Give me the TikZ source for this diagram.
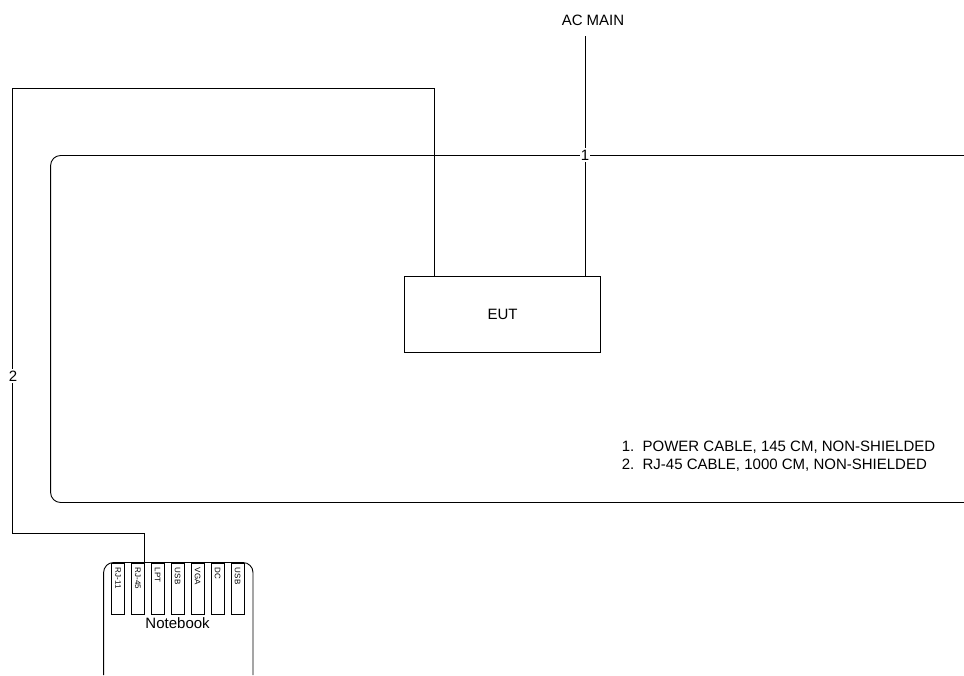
\documentclass[tikz,border=0pt]{standalone}
\usepackage{fontspec}
\setmainfont{Liberation Sans}
\usetikzlibrary{calc, positioning}

\begin{document}
\begin{tikzpicture}[x=1pt, y=-1pt, line width=0.9pt, font=\fontsize{15}{18}\selectfont,
    port/.style={draw, rotate=-90, anchor=west, minimum height=13pt, text width=41pt, inner xsep=5pt, inner ysep=2pt, align=left, font=\fontsize{8}{9}\selectfont},
    cablelabel/.style={fill=white, inner xsep=1pt, inner ysep=1.5pt}]
            \useasboundingbox (0,0) rectangle (964,675);

            \node (eut) at (502.6,314) [draw, minimum width=196pt, minimum height=76pt] {EUT};
            \node (main) at (593,20) {AC MAIN};
            \coordinate (mainend) at (585,36);
            \coordinate (powerin) at (585,276);
            \coordinate (lanin) at (434.6,276);
            \coordinate (lantop) at (434.6,88.5);
            \coordinate (lanleft) at (12.8,88.5);
            \coordinate (lanlow) at (12.8,533.5);

            % table edge, open at the right
            \coordinate (tabletop) at (966,155.5);
            \coordinate (tablecorner) at (50.6,155.5);
            \coordinate (tablelow) at (50.6,502.5);
            \coordinate (tablebottom) at (966,502.5);
            \draw[rounded corners=10pt] (tabletop) -- (tablecorner) -- (tablelow) -- (tablebottom);

            % notebook, cut off at the bottom
            \coordinate (nbleft) at (103.6,675);
            \coordinate (nbtopleft) at (103.6,562.5);
            \coordinate (nbtopright) at (253,562.5);
            \coordinate (nbright) at (253,675);
            \draw[rounded corners=10pt] (nbleft) -- (nbtopleft) -- (nbtopright) -- (nbright);

            \node[port] (rj11) at (118,562.5) {RJ-11};
            \node[port] (rj45) at (137.8,562.5) {RJ-45};
            \node[port] (lpt) at (157.6,562.5) {LPT};
            \node[port] (usba) at (177.6,562.5) {USB};
            \node[port] (vga) at (197.6,562.5) {VGA};
            \node[port] (dc) at (217.6,562.5) {DC};
            \node[port] (usbb) at (237.6,562.5) {USB};
            \node (notebook) [below=-1pt of usba.east] {Notebook};

            \draw (mainend) -- (powerin);
            \draw (eut.north -| lanin) -- (lantop) -- (lanleft) -- (lanlow) -| ($(rj45.west)+(6.5,0)$);

            \node[cablelabel] (one) at (585,155) {1};
            \node[cablelabel] (two) at (13,376) {2};

            \node (notes) at (778.5,456.5) [align=left] {1.\ \ POWER CABLE, 145 CM, NON-SHIELDED\\2.\ \ RJ-45 CABLE, 1000 CM, NON-SHIELDED};

            \end{tikzpicture}
\end{document}
